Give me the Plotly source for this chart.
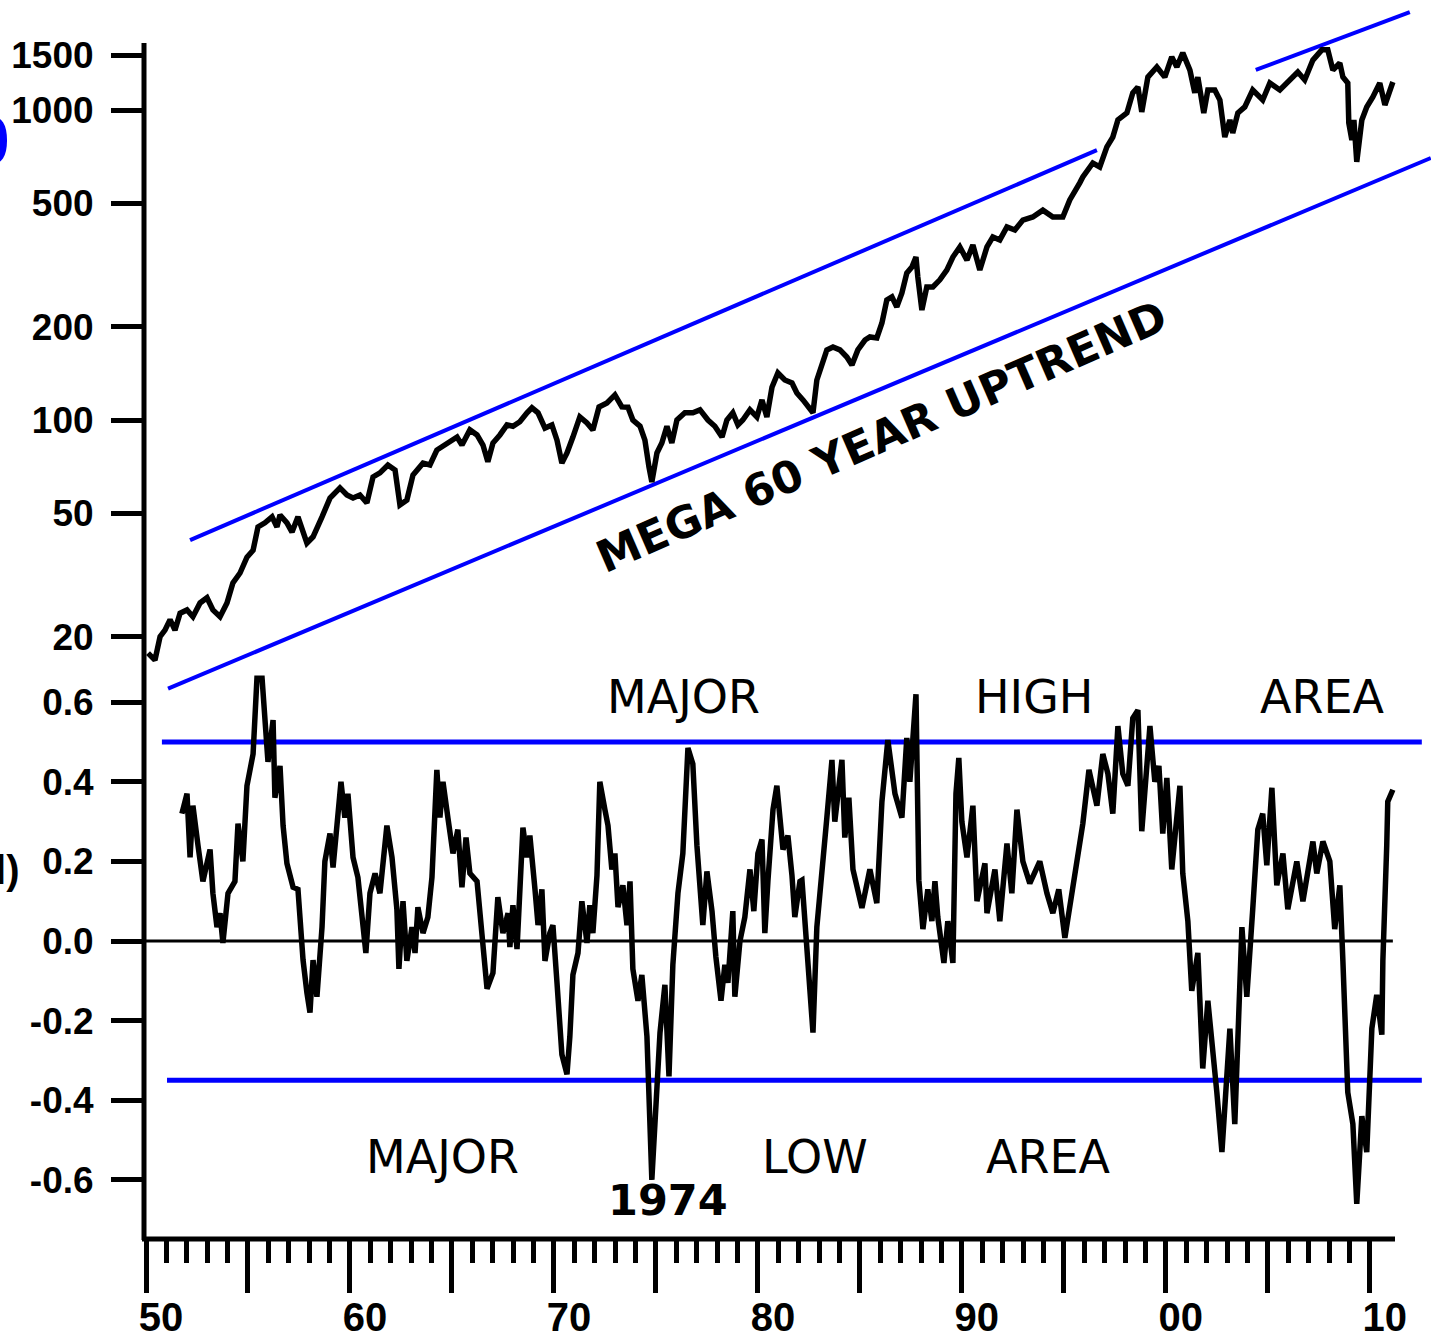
import plotly.graph_objects as go

# ---------------- data ----------------
price_years = [
    1950.10, 1950.44, 1950.69, 1950.93, 1951.18, 1951.42, 1951.67, 1952.01, 1952.30, 1952.65, 1952.99,
    1953.28, 1953.63, 1953.97, 1954.26, 1954.61, 1954.95, 1955.25, 1955.49, 1955.83, 1956.18, 1956.42,
    1956.57, 1956.91, 1957.16, 1957.45, 1957.89, 1958.19, 1958.63, 1959.02, 1959.51, 1959.85, 1960.15,
    1960.49, 1960.83, 1961.13, 1961.47, 1961.86, 1962.21, 1962.45, 1962.79, 1963.09, 1963.58, 1963.92,
    1964.26, 1964.75, 1965.25, 1965.49, 1965.88, 1966.23, 1966.52, 1966.76, 1967.01, 1967.35, 1967.70,
    1967.99, 1968.33, 1968.68, 1968.92, 1969.22, 1969.56, 1969.90, 1970.15, 1970.39, 1970.64, 1970.93,
    1971.27, 1971.62, 1971.91, 1972.21, 1972.60, 1972.99, 1973.33, 1973.63, 1973.87, 1974.22, 1974.46,
    1974.66, 1974.80, 1975.05, 1975.29, 1975.54, 1975.78, 1976.03, 1976.42, 1976.81, 1977.16, 1977.55,
    1977.89, 1978.24, 1978.48, 1978.77, 1979.02, 1979.26, 1979.61, 1979.95, 1980.20, 1980.44, 1980.69,
    1980.98, 1981.32, 1981.67, 1981.91, 1982.21, 1982.55, 1982.70, 1982.89, 1983.19, 1983.38, 1983.68,
    1984.02, 1984.36, 1984.61, 1984.90, 1985.25, 1985.49, 1985.83, 1986.08, 1986.32, 1986.57, 1986.81,
    1987.06, 1987.30, 1987.55, 1987.75, 1987.84, 1988.04, 1988.28, 1988.58, 1988.92, 1989.26, 1989.56,
    1989.90, 1990.25, 1990.54, 1990.88, 1991.23, 1991.52, 1991.86, 1992.21, 1992.60, 1992.99, 1993.48,
    1993.97, 1994.46, 1994.95, 1995.29, 1995.78, 1995.93, 1996.42, 1996.76, 1997.11, 1997.40, 1997.65,
    1998.09, 1998.38, 1998.63, 1998.82, 1999.12, 1999.56, 1999.95, 2000.29, 2000.54, 2000.83, 2001.18,
    2001.42, 2001.57, 2001.86, 2002.06, 2002.40, 2002.65, 2002.89, 2003.14, 2003.28, 2003.53, 2003.87,
    2004.26, 2004.75, 2005.10, 2005.59, 2006.08, 2006.47, 2006.81, 2007.21, 2007.65, 2007.94, 2008.19,
    2008.53, 2008.68, 2008.92, 2008.97, 2009.12, 2009.22, 2009.36, 2009.61, 2009.85, 2010.15, 2010.49,
    2010.74, 2010.98, 2011.13,
]
price_values = [
    17.7, 16.8, 20.0, 21.0, 22.7, 21.0, 23.8, 24.4, 23.2, 25.7, 26.7,
    24.4, 23.2, 25.7, 29.8, 32.1, 36.1, 38.0, 45.2, 46.6, 48.7, 45.2,
    49.4, 46.6, 43.5, 48.7, 40.1, 42.0, 48.7, 56.0, 60.4, 57.3, 56.0,
    57.3, 54.0, 65.5, 67.5, 71.6, 69.0, 53.2, 55.2, 66.5, 72.6, 71.6,
    80.0, 84.3, 88.1, 83.0, 92.9, 89.5, 83.0, 73.3, 84.3, 89.5, 96.4,
    95.5, 98.7, 105.5, 109.5, 105.5, 94.2, 96.4, 86.1, 72.6, 78.3, 88.1,
    102.3, 97.8, 92.9, 110.2, 113.5, 120.5, 110.2, 110.0, 100.0, 95.5, 86.1,
    70.5, 63.1, 78.3, 84.3, 95.5, 84.3, 100.0, 105.5, 105.5, 107.8, 100.0,
    95.5, 88.1, 100.0, 105.5, 96.4, 100.0, 107.8, 102.3, 116.1, 102.3, 127.6,
    141.8, 134.6, 131.7, 122.2, 116.1, 107.8, 105.5, 134.6, 152.8, 168.3, 172.1,
    168.3, 159.6, 150.4, 168.3, 181.1, 185.3, 184.0, 205.6, 243.9, 249.5, 231.6,
    257.0, 297.9, 311.7, 335.6, 289.1, 226.3, 268.5, 268.5, 283.2, 304.6, 335.6,
    361.6, 328.0, 367.0, 304.6, 361.6, 389.5, 381.0, 419.6, 410.0, 441.6, 451.8,
    475.4, 451.8, 451.8, 513.0, 582.0, 608.0, 674.5, 655.0, 760.0, 818.0, 929.0,
    978.0, 1136.0, 1186.0, 986.0, 1277.0, 1377.0, 1277.0, 1483.0, 1377.0, 1528.0, 1345.0,
    1136.0, 1277.0, 978.0, 1160.0, 1160.0, 1077.0, 818.0, 929.0, 843.0, 978.0, 1023.0,
    1160.0, 1077.0, 1222.0, 1160.0, 1250.0, 1326.0, 1250.0, 1449.0, 1563.0, 1563.0, 1345.0,
    1418.0, 1277.0, 1222.0, 908.0, 800.0, 929.0, 680.0, 929.0, 1023.0, 1101.0, 1222.0,
    1038.0, 1160.0, 1231.0,
]

osc_years = [
    1951.76, 1952.01, 1952.16, 1952.30, 1952.55, 1952.79, 1953.14, 1953.28, 1953.48, 1953.63,
    1953.77, 1954.02, 1954.36, 1954.51, 1954.75, 1954.95, 1955.25, 1955.44, 1955.69, 1955.98,
    1956.23, 1956.32, 1956.57, 1956.72, 1956.91, 1957.21, 1957.45, 1957.70, 1957.89, 1958.04,
    1958.19, 1958.38, 1958.63, 1958.77, 1959.02, 1959.17, 1959.56, 1959.75, 1959.90, 1960.15,
    1960.39, 1960.64, 1960.78, 1960.98, 1961.23, 1961.47, 1961.81, 1962.06, 1962.30, 1962.40,
    1962.60, 1962.79, 1963.04, 1963.19, 1963.33, 1963.58, 1963.82, 1964.02, 1964.26, 1964.41,
    1964.56, 1964.80, 1965.05, 1965.29, 1965.49, 1965.69, 1965.88, 1966.23, 1966.47, 1966.72,
    1967.01, 1967.25, 1967.50, 1967.75, 1967.84, 1967.99, 1968.19, 1968.33, 1968.48, 1968.68,
    1968.82, 1969.07, 1969.22, 1969.41, 1969.56, 1969.80, 1969.95, 1970.15, 1970.39, 1970.64,
    1970.78, 1970.93, 1971.18, 1971.37, 1971.62, 1971.76, 1971.91, 1972.11, 1972.25, 1972.50,
    1972.65, 1972.84, 1972.99, 1973.14, 1973.38, 1973.58, 1973.73, 1973.87, 1974.12, 1974.31,
    1974.56, 1974.80, 1974.95, 1975.20, 1975.44, 1975.64, 1975.83, 1976.08, 1976.32, 1976.57,
    1976.81, 1977.01, 1977.30, 1977.50, 1977.75, 1977.94, 1978.19, 1978.38, 1978.53, 1978.77,
    1978.87, 1979.12, 1979.36, 1979.61, 1979.80, 1980.00, 1980.20, 1980.34, 1980.49, 1980.74,
    1980.93, 1981.23, 1981.47, 1981.67, 1981.81, 1982.06, 1982.16, 1982.40, 1982.70, 1982.89,
    1983.19, 1983.38, 1983.63, 1983.77, 1984.12, 1984.26, 1984.46, 1984.66, 1985.10, 1985.49,
    1985.83, 1986.08, 1986.37, 1986.72, 1987.06, 1987.30, 1987.45, 1987.75, 1987.89, 1988.09,
    1988.33, 1988.53, 1988.68, 1988.82, 1989.12, 1989.31, 1989.56, 1989.71, 1989.85, 1990.00,
    1990.25, 1990.54, 1990.74, 1991.13, 1991.23, 1991.62, 1991.86, 1992.21, 1992.45, 1992.70,
    1992.99, 1993.33, 1993.82, 1994.17, 1994.46, 1994.75, 1995.05, 1995.39, 1995.64, 1995.93,
    1996.23, 1996.62, 1996.91, 1997.16, 1997.40, 1997.65, 1997.89, 1998.14, 1998.38, 1998.63,
    1998.82, 1999.22, 1999.46, 1999.66, 1999.85, 2000.05, 2000.29, 2000.69, 2000.83, 2001.08,
    2001.27, 2001.57, 2001.81, 2002.06, 2002.50, 2002.75, 2003.14, 2003.38, 2003.73, 2003.97,
    2004.26, 2004.51, 2004.75, 2004.95, 2005.20, 2005.44, 2005.74, 2005.98, 2006.42, 2006.72,
    2007.21, 2007.40, 2007.70, 2008.04, 2008.28, 2008.53, 2008.68, 2008.92, 2009.17, 2009.36,
    2009.61, 2009.85, 2010.10, 2010.34, 2010.59, 2010.64, 2010.83, 2010.88, 2011.13,
]
osc_values = [
    0.32, 0.37, 0.21, 0.34, 0.24, 0.15, 0.23, 0.12, 0.035, 0.07,
    -0.005, 0.12, 0.15, 0.295, 0.20, 0.39, 0.47, 0.66, 0.66, 0.45,
    0.555, 0.36, 0.44, 0.29, 0.195, 0.135, 0.13, -0.048, -0.13, -0.18,
    -0.048, -0.14, 0.035, 0.20, 0.27, 0.185, 0.40, 0.31, 0.37, 0.21,
    0.16, 0.05, -0.03, 0.12, 0.17, 0.12, 0.29, 0.21, 0.08, -0.07,
    0.10, -0.05, 0.035, -0.03, 0.085, 0.02, 0.06, 0.16, 0.43, 0.31,
    0.40, 0.31, 0.22, 0.28, 0.135, 0.26, 0.17, 0.15, 0.02, -0.12,
    -0.08, 0.11, 0.02, 0.07, -0.015, 0.09, -0.02, 0.13, 0.285, 0.21,
    0.265, 0.13, 0.04, 0.13, -0.05, 0.02, 0.04, -0.105, -0.285, -0.335,
    -0.24, -0.085, -0.03, 0.10, -0.005, 0.09, 0.02, 0.165, 0.40, 0.33,
    0.29, 0.18, 0.22, 0.085, 0.14, 0.04, 0.15, -0.07, -0.15, -0.085,
    -0.24, -0.60, -0.465, -0.23, -0.11, -0.34, -0.06, 0.12, 0.22, 0.485,
    0.445, 0.24, 0.04, 0.175, 0.075, -0.04, -0.15, -0.06, -0.105, 0.075,
    -0.14, 0.0, 0.06, 0.18, 0.075, 0.22, 0.255, 0.02, 0.15, 0.33,
    0.39, 0.23, 0.265, 0.165, 0.06, 0.15, 0.153, 0.0, -0.23, 0.035,
    0.19, 0.31, 0.455, 0.30, 0.455, 0.26, 0.36, 0.18, 0.083, 0.18,
    0.095, 0.35, 0.505, 0.37, 0.31, 0.51, 0.40, 0.62, 0.153, 0.03,
    0.13, 0.05, 0.15, 0.06, -0.055, 0.05, -0.055, 0.37, 0.46, 0.30,
    0.21, 0.34, 0.10, 0.195, 0.07, 0.18, 0.05, 0.245, 0.12, 0.33,
    0.20, 0.145, 0.20, 0.12, 0.07, 0.13, 0.008, 0.12, 0.20, 0.295,
    0.43, 0.34, 0.47, 0.42, 0.32, 0.54, 0.42, 0.39, 0.56, 0.58,
    0.276, 0.54, 0.40, 0.44, 0.27, 0.41, 0.18, 0.39, 0.17, 0.05,
    -0.125, -0.03, -0.32, -0.15, -0.38, -0.53, -0.22, -0.46, 0.035, -0.14,
    0.08, 0.28, 0.32, 0.19, 0.385, 0.14, 0.22, 0.08, 0.20, 0.10,
    0.25, 0.17, 0.25, 0.20, 0.03, 0.14, -0.05, -0.38, -0.46, -0.66,
    -0.44, -0.53, -0.22, -0.135, -0.235, -0.05, 0.24, 0.35, 0.38,
]

# trend channel lines (log-price panel), endpoints in data units
upper_channel_years = [1952.16, 1996.62]
upper_channel_values = [41.0, 742.0]
lower_channel_years = [1951.08, 2012.99]
lower_channel_values = [13.6, 700.0]
recent_channel_years = [2004.41, 2011.96]
recent_channel_values = [1346.0, 2070.0]

# oscillator bands
high_band_years = [1950.78, 2012.55]
high_band_values = [0.5, 0.5]
low_band_years = [1951.03, 2012.55]
low_band_values = [-0.35, -0.35]
zero_line_years = [1950.0, 2011.13]
zero_line_values = [0.0, 0.0]

price_ticks = [20, 50, 100, 200, 500, 1000, 1500]
price_tick_text = ["20", "50", "100", "200", "500", "1000", "1500"]
osc_ticks = [-0.6, -0.4, -0.2, 0.0, 0.2, 0.4, 0.6]
osc_tick_text = ["-0.6", "-0.4", "-0.2", "0.0", "0.2", "0.4", "0.6"]
year_ticks = [1950, 1955, 1960, 1965, 1970, 1975, 1980, 1985, 1990, 1995, 2000, 2005, 2010]
year_tick_text = ["50", "", "60", "", "70", "", "80", "", "90", "", "00", "", "10"]
minor_year_ticks = [y for y in range(1950, 2011) if y % 5 != 0]

# ---------------- layout geometry ----------------
W, H = 1431, 1339
ML, MB = 146, 101
PW = W - ML
PH = H - MB


def px(xp):
    return (xp - ML) / PW


def py(yp):
    return (PH - yp) / PH


BLUE = "#0000FF"
tick_font = dict(family="Liberation Sans, Arial, sans-serif", size=37, color="black", weight="bold")

fig = go.Figure()

fig.add_trace(go.Scatter(x=upper_channel_years, y=upper_channel_values, mode="lines",
                         line=dict(color=BLUE, width=4), xaxis="x", yaxis="y", hoverinfo="skip"))
fig.add_trace(go.Scatter(x=lower_channel_years, y=lower_channel_values, mode="lines",
                         line=dict(color=BLUE, width=4), xaxis="x", yaxis="y", hoverinfo="skip"))
fig.add_trace(go.Scatter(x=recent_channel_years, y=recent_channel_values, mode="lines",
                         line=dict(color=BLUE, width=4), xaxis="x", yaxis="y", hoverinfo="skip"))
fig.add_trace(go.Scatter(x=price_years, y=price_values, mode="lines",
                         line=dict(color="black", width=5.5), xaxis="x", yaxis="y", hoverinfo="skip"))

fig.add_trace(go.Scatter(x=zero_line_years, y=zero_line_values, mode="lines",
                         line=dict(color="black", width=3), xaxis="x", yaxis="y2", hoverinfo="skip"))
fig.add_trace(go.Scatter(x=high_band_years, y=high_band_values, mode="lines",
                         line=dict(color=BLUE, width=5), xaxis="x", yaxis="y2", hoverinfo="skip"))
fig.add_trace(go.Scatter(x=low_band_years, y=low_band_values, mode="lines",
                         line=dict(color=BLUE, width=5), xaxis="x", yaxis="y2", hoverinfo="skip"))
fig.add_trace(go.Scatter(x=osc_years, y=osc_values, mode="lines",
                         line=dict(color="black", width=5.5), xaxis="x", yaxis="y2", hoverinfo="skip"))

label_font = dict(family="DejaVu Sans, Verdana, sans-serif", size=46, color="black")
annotations = []
for text, xp, yp in [("MAJOR", 683, 697), ("HIGH", 1034, 697), ("AREA", 1322, 697),
                     ("MAJOR", 442, 1157), ("LOW", 815, 1157), ("AREA", 1048, 1157)]:
    annotations.append(dict(text=text, x=px(xp), y=py(yp), xref="paper", yref="paper",
                            showarrow=False, xanchor="center", yanchor="middle", font=label_font))
annotations.append(dict(text="1974", x=px(668), y=py(1200), xref="paper", yref="paper",
                        showarrow=False, xanchor="center", yanchor="middle",
                        font=dict(family="DejaVu Sans, Verdana, sans-serif", size=43,
                                  color="black", weight="bold")))
annotations.append(dict(text="MEGA 60 YEAR UPTREND", x=px(881), y=py(436), xref="paper", yref="paper",
                        showarrow=False, xanchor="center", yanchor="middle", textangle=-23.5,
                        font=dict(family="DejaVu Sans, Verdana, sans-serif", size=44,
                                  color="black", weight="bold")))
annotations.append(dict(text="S&P 500", x=px(12), y=py(140), xref="paper", yref="paper",
                        showarrow=False, xanchor="right", yanchor="middle",
                        font=dict(family="Liberation Sans, Arial, sans-serif", size=68,
                                  color=BLUE, weight="bold")))
annotations.append(dict(text="(annual)", x=px(22), y=py(870), xref="paper", yref="paper",
                        showarrow=False, xanchor="right", yanchor="middle",
                        font=dict(family="Liberation Sans, Arial, sans-serif", size=40,
                                  color="black", weight="bold")))

# axis spines drawn as paper-space lines (y spine spans both panels, x spine stops at 2011)
shapes = [
    dict(type="line", xref="paper", yref="paper", x0=px(144), x1=px(144), y0=py(43), y1=py(1240),
         line=dict(color="black", width=5)),
    dict(type="line", xref="paper", yref="paper", x0=px(142), x1=px(1395), y0=py(1239), y1=py(1239),
         line=dict(color="black", width=5)),
]

fig.update_layout(
    width=W, height=H, autosize=False,
    margin=dict(l=ML, r=0, t=0, b=MB, pad=0, autoexpand=False),
    paper_bgcolor="white", plot_bgcolor="rgba(0,0,0,0)",
    showlegend=False,
    annotations=annotations,
    shapes=shapes,
    xaxis=dict(
        domain=[0, 1], anchor="y2", range=[1950, 2013.0], automargin=False,
        showgrid=False, zeroline=False, showline=False,
        ticks="outside", ticklen=54, tickwidth=5, tickcolor="black",
        tickmode="array", tickvals=year_ticks, ticktext=year_tick_text,
        tickfont=dict(family="Liberation Sans, Arial, sans-serif", size=40, color="black", weight="bold"),
        ticklabelshift=15, ticklabelstandoff=-10,
        minor=dict(ticks="outside", tickmode="array", tickvals=minor_year_ticks, ticklen=24,
                   tickwidth=5, tickcolor="black", showgrid=False),
    ),
    yaxis=dict(
        domain=[py(720), py(5)], anchor="x", type="log", range=[1.0323, 3.3387], automargin=False,
        showgrid=False, zeroline=False, showline=False,
        ticks="outside", ticklen=34, tickwidth=5, tickcolor="black",
        tickmode="array", tickvals=price_ticks, ticktext=price_tick_text,
        tickfont=tick_font, ticklabelstandoff=10,
    ),
    yaxis2=dict(
        domain=[0, py(660)], anchor="x", range=[-0.746, 0.706], automargin=False,
        showgrid=False, zeroline=False, showline=False,
        ticks="outside", ticklen=34, tickwidth=5, tickcolor="black",
        tickmode="array", tickvals=osc_ticks, ticktext=osc_tick_text,
        tickfont=tick_font, ticklabelstandoff=10,
    ),
)

fig.write_html("out.html", config={"displayModeBar": False},
               post_script="document.body.style.margin='0';")
